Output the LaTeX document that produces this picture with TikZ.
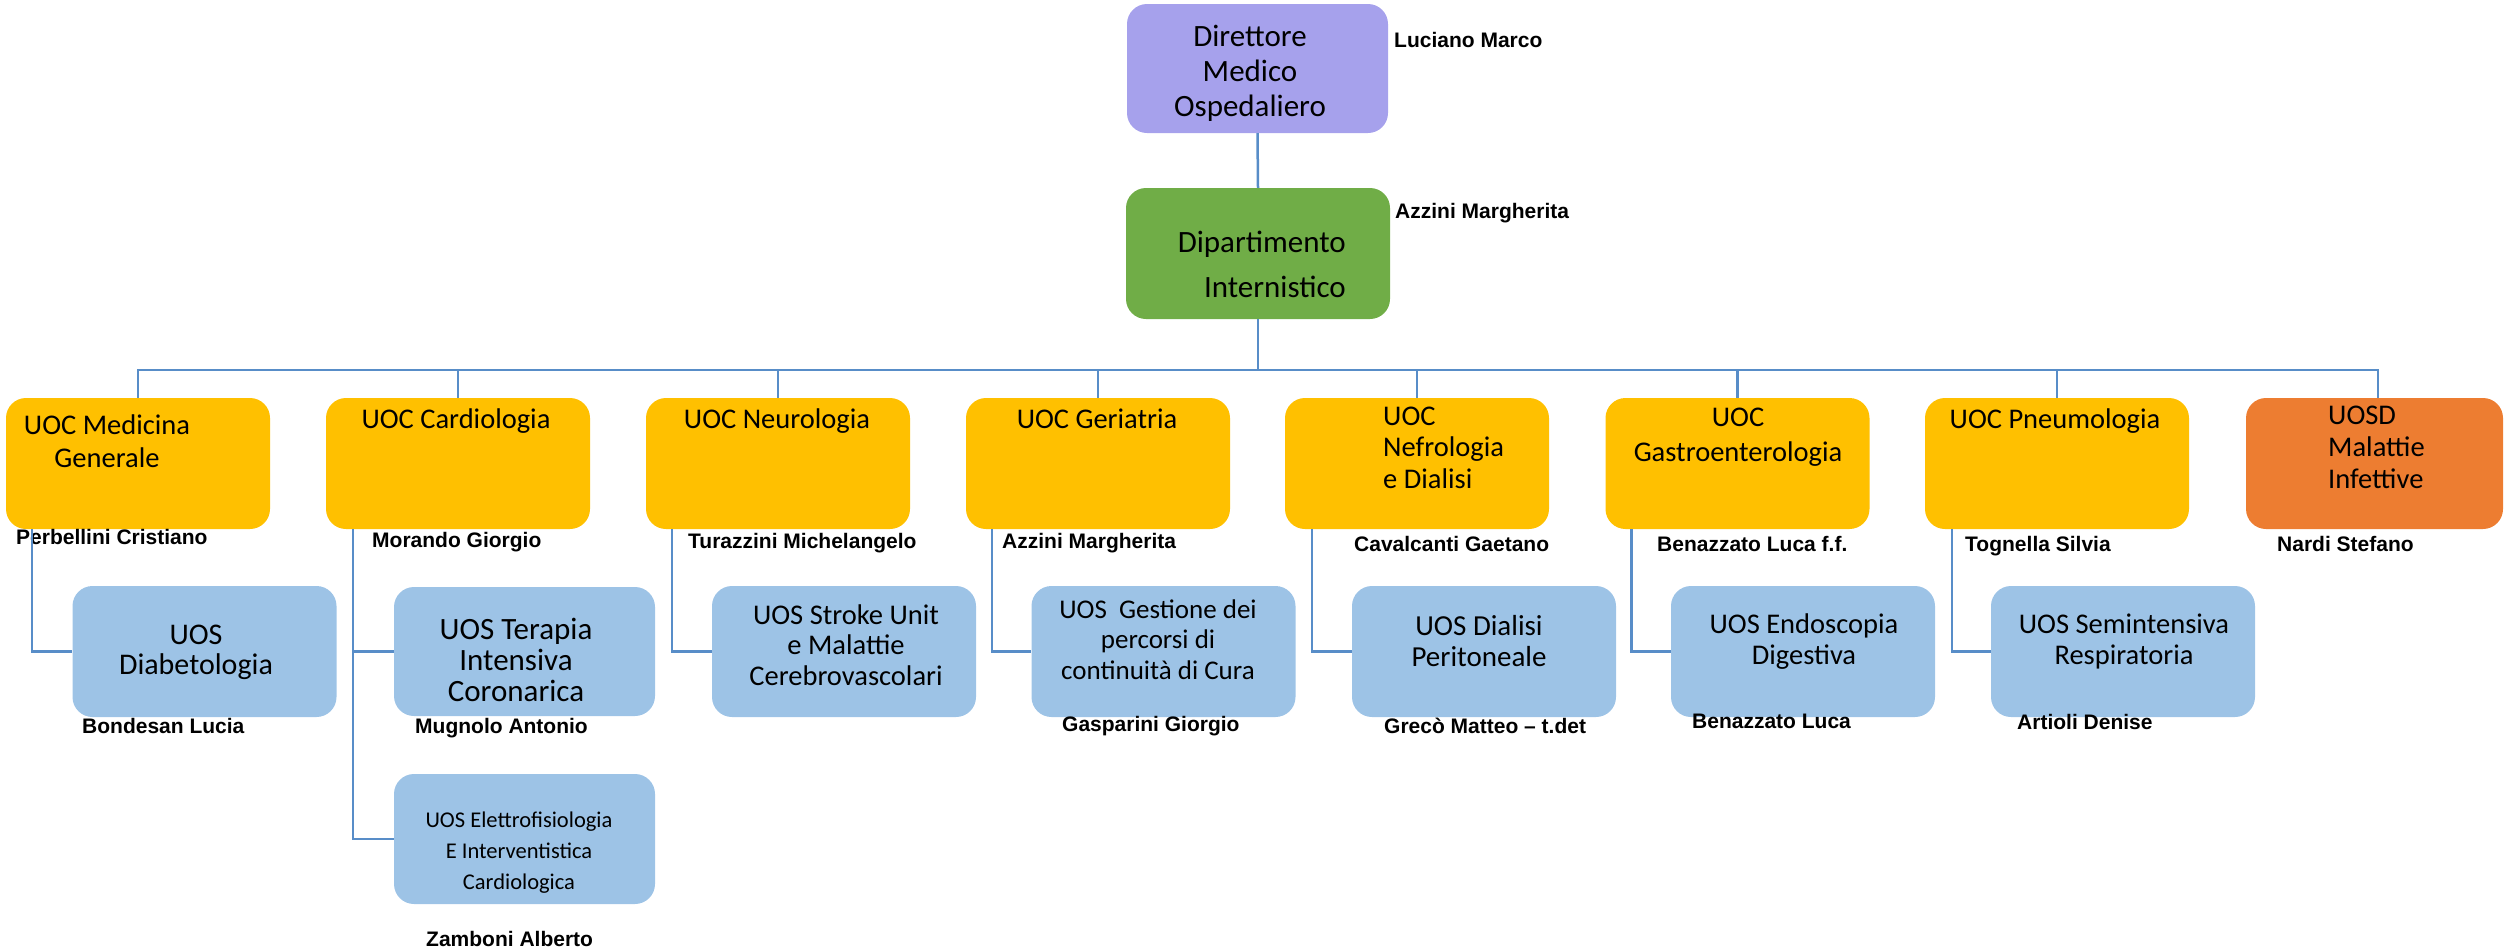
\documentclass[tikz,border=0pt]{standalone}
\usepackage{fontspec}
\newfontfamily\boxfont{Carlito}
\newfontfamily\namefont{Liberation Sans}
\definecolor{dircol}{RGB}{166,161,236}
\definecolor{depcol}{RGB}{112,173,71}
\definecolor{uoccol}{RGB}{255,192,0}
\definecolor{uosdcol}{RGB}{237,125,49}
\definecolor{uoscol}{RGB}{157,195,230}
\definecolor{linkcol}{RGB}{88,141,200}
\begin{document}
\begin{tikzpicture}[x=1pt,y=-1pt,
  box/.style={rounded corners=20pt, inner sep=0pt, draw=none,
    minimum width=264pt, minimum height=131pt},
  dirbox/.style={box, fill=dircol},
  depbox/.style={box, fill=depcol},
  uocbox/.style={box, fill=uoccol},
  uosdbox/.style={box, fill=uosdcol},
  uosbox/.style={box, fill=uoscol},
  conn/.style={draw=linkcol, line width=2.5pt},
  lbl/.style={inner sep=0pt, anchor=base, align=center},
  person/.style={inner sep=0pt, anchor=base west,
    font=\namefont\bfseries\fontsize{21}{25}\selectfont},
]
\useasboundingbox (0,0) rectangle (2504,951);

% ---- boxes ----
\node[dirbox, minimum width=261pt, minimum height=129pt] (dir) at (1257.5,68.5) {};
\node[depbox] (dep) at (1258,253.5) {};

\node[uocbox] (med) at (138,463.5) {};
\node[uocbox] (car) at (458,463.5) {};
\node[uocbox] (neu) at (778,463.5) {};
\node[uocbox] (ger) at (1098,463.5) {};
\node[uocbox] (nef) at (1417,463.5) {};
\node[uocbox] (gas) at (1737.5,463.5) {};
\node[uocbox] (pne) at (2057,463.5) {};
\node[uosdbox, minimum width=257pt] (uosd) at (2374.5,463.5) {};

\node[uosbox] (dia) at (204.5,651.5) {};
\node[uosbox, minimum width=261pt, minimum height=129pt] (ter) at (524.5,651.5) {};
\node[uosbox, minimum width=261pt, minimum height=130pt] (ele) at (524.5,839) {};
\node[uosbox] (str) at (844,651.5) {};
\node[uosbox] (ges) at (1163.5,651.5) {};
\node[uosbox] (dis) at (1484,651.5) {};
\node[uosbox] (end) at (1803,651.5) {};
\node[uosbox] (sem) at (2123,651.5) {};

% ---- box texts (positioned on the baseline of their last line) ----
\node[lbl, font=\boxfont\fontsize{31}{35}\selectfont] (dirT) at (1250,116) {Direttore\\Medico\\Ospedaliero};
\node[lbl, anchor=base east, align=right, font=\boxfont\fontsize{31}{45}\selectfont] (depT) at (1346,297) {Dipartimento\\Internistico};

\node[lbl, font=\boxfont\fontsize{28.5}{33}\selectfont] (medT) at (107,467) {UOC Medicina\\Generale};
\node[lbl, font=\boxfont\fontsize{28.5}{33}\selectfont] (carT) at (456,428) {UOC Cardiologia};
\node[lbl, font=\boxfont\fontsize{28.5}{33}\selectfont] (neuT) at (777,428) {UOC Neurologia};
\node[lbl, font=\boxfont\fontsize{28.5}{33}\selectfont] (gerT) at (1097,428) {UOC Geriatria};
\node[lbl, anchor=base west, align=left, font=\boxfont\fontsize{28.5}{31.5}\selectfont] (nefT) at (1383,488) {UOC\\Nefrologia\\e Dialisi};
\node[lbl, font=\boxfont\fontsize{28.5}{35}\selectfont] (gasT) at (1738,461) {UOC\\Gastroenterologia};
\node[lbl, font=\boxfont\fontsize{28.5}{33}\selectfont] (pneT) at (2055,428) {UOC Pneumologia};
\node[lbl, anchor=base west, align=left, font=\boxfont\fontsize{28.5}{32}\selectfont] (uosdT) at (2328,488) {UOSD\\Malattie\\Infettive};

\node[lbl, font=\boxfont\fontsize{30}{30}\selectfont] (diaT) at (196,674) {UOS\\Diabetologia};
\node[lbl, font=\boxfont\fontsize{31}{31}\selectfont] (terT) at (516,701) {UOS Terapia\\Intensiva\\Coronarica};
\node[lbl, font=\boxfont\fontsize{22.5}{31}\selectfont] (eleT) at (519,889) {UOS Elettrofisiologia\\E Interventistica\\Cardiologica};
\node[lbl, font=\boxfont\fontsize{28.5}{30.5}\selectfont] (strT) at (846,685) {UOS Stroke Unit\\e Malattie\\Cerebrovascolari};
\node[lbl, font=\boxfont\fontsize{27}{30.5}\selectfont] (gesT) at (1158,679) {UOS\ \ Gestione dei\\percorsi di\\continuità di Cura};
\node[lbl, font=\boxfont\fontsize{29}{31}\selectfont] (disT) at (1479,666) {UOS Dialisi\\Peritoneale};
\node[lbl, font=\boxfont\fontsize{28.5}{31}\selectfont] (endT) at (1804,664) {UOS Endoscopia\\Digestiva};
\node[lbl, font=\boxfont\fontsize{28.5}{31}\selectfont] (semT) at (2124,664) {UOS Semintensiva\\Respiratoria};

% ---- people ----
\node[person] (pDir) at (1394,47) {Luciano Marco};
\node[person] (pDep) at (1395,218) {Azzini Margherita};
\node[person] (pMed) at (16,544) {Perbellini Cristiano};
\node[person] (pCar) at (372,547) {Morando Giorgio};
\node[person] (pNeu) at (688,548) {Turazzini Michelangelo};
\node[person] (pGer) at (1002,548) {Azzini Margherita};
\node[person] (pNef) at (1354,551) {Cavalcanti Gaetano};
\node[person] (pGas) at (1657,551) {Benazzato Luca f.f.};
\node[person] (pPne) at (1965,551) {Tognella Silvia};
\node[person] (pUosd) at (2277,551) {Nardi Stefano};
\node[person] (pDia) at (82,733) {Bondesan Lucia};
\node[person] (pTer) at (415,733) {Mugnolo Antonio};
\node[person] (pEle) at (426,946) {Zamboni Alberto};
\node[person] (pGes) at (1062,731) {Gasparini Giorgio};
\node[person] (pDis) at (1384,733) {Grecò Matteo – t.det};
\node[person] (pEnd) at (1692,728) {Benazzato Luca};
\node[person] (pSem) at (2017,729) {Artioli Denise};

% ---- connectors ----
\coordinate (bus) at (0,370);
\draw[conn] (dir.south) -- (dep.north);
\draw[conn] (dep.south) -- (dep.south |- bus);
\draw[conn] (med.north) -- (med.north |- bus) -- ([xshift=3.5pt]uosd.north |- bus) -- ([xshift=3.5pt]uosd.north);
\foreach \u in {car,neu,ger,nef,gas,pne}
  \draw[conn] (\u.north) -- (\u.north |- bus);

\draw[conn] ([xshift=26pt]med.south west) |- (dia.west);
\draw[conn] ([xshift=27pt]car.south west) |- (ter.west);
\draw[conn] ([xshift=27pt]car.south west) |- (ele.west);
\draw[conn] ([xshift=26pt]neu.south west) |- (str.west);
\draw[conn] ([xshift=26pt]ger.south west) |- (ges.west);
\draw[conn] ([xshift=27pt]nef.south west) |- (dis.west);
\draw[conn] ([xshift=26pt]gas.south west) |- (end.west);
\draw[conn] ([xshift=27pt]pne.south west) |- (sem.west);
\end{tikzpicture}
\end{document}
